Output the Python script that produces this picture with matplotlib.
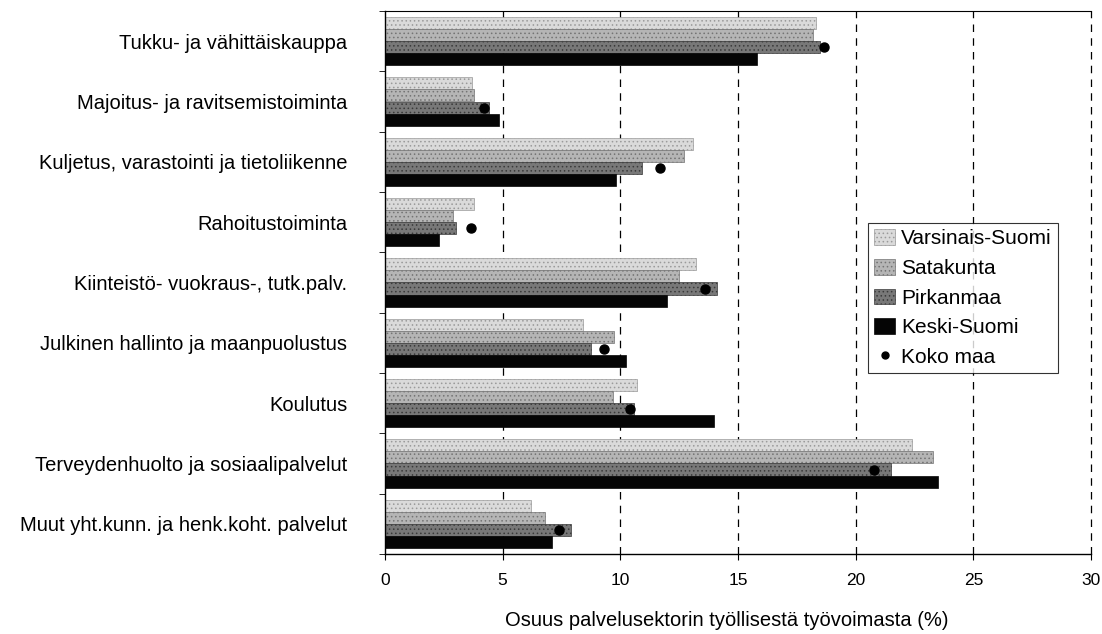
import numpy as np
import matplotlib
matplotlib.use("Agg")
import matplotlib.pyplot as plt
from matplotlib.lines import Line2D
from matplotlib.patches import Patch

plt.rcParams["font.family"] = ["Liberation Sans", "DejaVu Sans"]
plt.rcParams["hatch.linewidth"] = 0.6

# ---- Data ------------------------------------------------------------------

categories = [
    "Tukku- ja vähittäiskauppa",
    "Majoitus- ja ravitsemistoiminta",
    "Kuljetus, varastointi ja tietoliikenne",
    "Rahoitustoiminta",
    "Kiinteistö- vuokraus-, tutk.palv.",
    "Julkinen hallinto ja maanpuolustus",
    "Koulutus",
    "Terveydenhuolto ja sosiaalipalvelut",
    "Muut yht.kunn. ja henk.koht. palvelut",
]
series_names = ["Varsinais-Suomi", "Satakunta", "Pirkanmaa", "Keski-Suomi"]
varsinais_suomi = [18.3, 3.7, 13.1, 3.8, 13.2, 8.4, 10.7, 22.4, 6.2]
satakunta = [18.2, 3.8, 12.7, 2.9, 12.5, 9.75, 9.7, 23.3, 6.8]
pirkanmaa = [18.5, 4.4, 10.9, 3.0, 14.1, 8.75, 10.6, 21.5, 7.9]
keski_suomi = [15.8, 4.85, 9.8, 2.3, 12.0, 10.25, 14.0, 23.5, 7.1]
koko_maa = [18.65, 4.2, 11.7, 3.65, 13.6, 9.3, 10.4, 20.8, 7.4]
xticks = [0, 5, 10, 15, 20, 25, 30]

# ---- Figure ----------------------------------------------------------------

W, H = 1102, 634
fig = plt.figure(figsize=(W / 100, H / 100), dpi=100)
ax_l, ax_r, ax_t, ax_b = 385, 1091, 11, 554
ax = fig.add_axes([ax_l / W, 1 - ax_b / H, (ax_r - ax_l) / W, (ax_b - ax_t) / H])

styles = [
    dict(color="#dadada", hatch="....", edgecolor="#9a9a9a"),
    dict(color="#b5b5b5", hatch="....", edgecolor="#747474"),
    dict(color="#787878", hatch="....", edgecolor="#3a3a3a"),
    dict(color="#050505", hatch=None, edgecolor="#050505"),
]
values = [varsinais_suomi, satakunta, pirkanmaa, keski_suomi]

y = np.arange(len(categories))
h = 0.2
offsets = [-1.5 * h, -0.5 * h, 0.5 * h, 1.5 * h]
for vals, st, off, name in zip(values, styles, offsets, series_names):
    ax.barh(y + off, vals, h, color=st["color"], hatch=st["hatch"],
            edgecolor=st["edgecolor"], linewidth=0.5, label=name, zorder=2)

ax.plot(koko_maa, y + 0.1, "o", color="black", markersize=6.5, zorder=3,
        linestyle="none", label="Koko maa")

# dashed gridlines, the one at 30 doubles as the right frame
for xv in xticks[1:]:
    ax.axvline(xv, color="black", linestyle=(0, (6, 5)), linewidth=0.9,
               zorder=1, clip_on=False)

ax.set_xlim(0, 30)
ax.set_ylim(len(categories) - 0.5, -0.5)
ax.set_xticks(xticks)
ax.set_xticklabels([str(v) for v in xticks], fontsize=12.5)
ax.set_yticks(y)
ax.set_yticklabels(categories, fontsize=14.5)
ax.tick_params(axis="y", length=0, pad=27)
ax.tick_params(axis="x", length=4, pad=10)
ax.set_yticks(np.arange(len(categories) + 1) - 0.5, minor=True)
ax.tick_params(axis="y", which="minor", length=4)
ax.spines["right"].set_visible(False)
ax.spines["top"].set_linewidth(0.8)
ax.spines["left"].set_linewidth(1.0)
ax.spines["bottom"].set_linewidth(1.0)

ax.set_xlabel("Osuus palvelusektorin työllisestä työvoimasta (%)", fontsize=14.5)
ax.xaxis.set_label_coords(0.484, -0.105)

handles = [Patch(facecolor=st["color"], hatch=st["hatch"], edgecolor=st["edgecolor"],
                 linewidth=0.5) for st in styles]
handles.append(Line2D([], [], marker="o", color="black", linestyle="none", markersize=5))
leg = ax.legend(handles, series_names + ["Koko maa"], loc="upper left",
                bbox_to_anchor=((868 - ax_l) / (ax_r - ax_l), 1 - (223 - ax_t) / (ax_b - ax_t)),
                fontsize=15, frameon=True, fancybox=False, edgecolor="black",
                handlelength=1.0, handleheight=0.8, handletextpad=0.3,
                labelspacing=0.5, borderpad=0.3, borderaxespad=0)
leg.get_frame().set_linewidth(0.8)
leg.set_zorder(5)

fig.savefig("out.png", dpi=100)
